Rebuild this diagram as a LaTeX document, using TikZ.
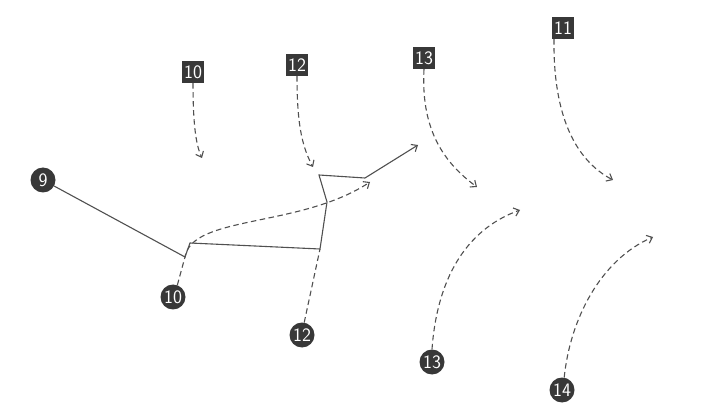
\documentclass[tikz,border=0pt]{standalone}
\usepackage{tikz}
\usetikzlibrary{arrows.meta}
\definecolor{inkdark}{HTML}{383838}
\definecolor{inkline}{HTML}{505050}
\tikzset{
  numdot/.style={circle,fill=inkdark,text=white,minimum size=25pt,inner sep=0pt,
    font=\sffamily\fontsize{19}{19}\selectfont},
  numbox/.style={rectangle,fill=inkdark,text=white,minimum size=22pt,inner sep=0pt,
    font=\sffamily\fontsize{19}{19}\selectfont},
  fluct/.style={->,inkline,line width=1.1pt,dash pattern=on 5.5pt off 3.5pt},
  trunk/.style={inkline,line width=1.1pt}
}

\begin{document}
\begin{tikzpicture}[x=1pt,y=-1pt,>={Straight Barb[length=5pt,width=8.5pt]}]
      \useasboundingbox (0,0) rectangle (718,414);
      % markers
      \node[numdot] (c9) at (43,180) {9};
      \node[numdot] (c10) at (173,297) {10};
      \node[numdot] (c12) at (302,335) {12};
      \node[numdot] (c13) at (432,362) {13};
      \node[numdot] (c14) at (562,390) {14};
      \node[numbox] (b10) at (193,72) {10};
      \node[numbox] (b12) at (297,65) {12};
      \node[numbox] (b13) at (424,58) {13};
      \node[numbox] (b11) at (563,28) {11};
      % corners of the path
      \coordinate (v1) at (185,257);
      \coordinate (v2) at (190,243);
      \coordinate (v3) at (320,249);
      \coordinate (v4) at (327,202);
      \coordinate (v5) at (319,175);
      \coordinate (v6) at (365,178);
      \coordinate (v7) at (418,145);
      % arrow ends
      \coordinate (e10) at (202,158);
      \coordinate (e12) at (313,167);
      \coordinate (e13) at (477,187);
      \coordinate (e11) at (613,180);
      \coordinate (f10) at (370,182);
      \coordinate (f13) at (520,210);
      \coordinate (f14) at (653,237);
      \draw[trunk,->] (c9) -- (v1) -- (v2) -- (v3) -- (v4) -- (v5) -- (v6) -- (v7);
      \draw[fluct] (b10.south) .. controls (193,125) and (196,145) .. (e10);
      \draw[fluct] (b12.south) .. controls (297,120) and (301,145) .. (e12);
      \draw[fluct] (b13.south) .. controls (421,125) and (440,160) .. (e13);
      \draw[fluct] ([xshift=-9]b11.south) .. controls (553,115) and (575,160) .. (e11);
      \draw[fluct] (c10.70) -- (v1) .. controls (192,215) and (300,228) .. (f10);
      \draw[fluct,-] (c12.80) -- (v3);
      \draw[fluct] (c13.north) .. controls (437,280) and (465,230) .. (f13);
      \draw[fluct] (c14.80) .. controls (570,320) and (600,260) .. (f14);
\end{tikzpicture}
\end{document}
